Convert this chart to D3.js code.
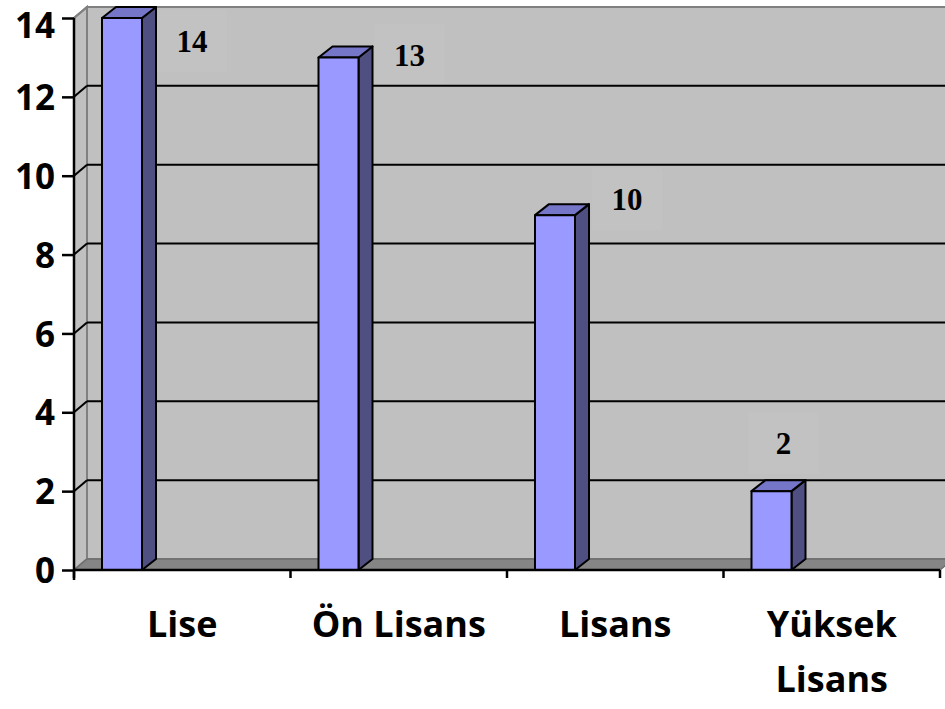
<!DOCTYPE html>
<html>
<head>
<meta charset="utf-8">
<script src="https://cdn.jsdelivr.net/npm/d3@7"></script>
<style>
  body { margin: 0; background: #fff; }
  svg { display: block; }
</style>
</head>
<body>
<div id="chart"></div>
<script>
//
// 3D column chart, education level counts.
//

var categories = ["Lise", "Ön Lisans", "Lisans", "Yüksek Lisans"];
var categoryLines = [["Lise"], ["Ön Lisans"], ["Lisans"], ["Yüksek", "Lisans"]];
var values = [14, 13, 9, 2];
var dataLabels = ["14", "13", "10", "2"];
var yTicks = [0, 2, 4, 6, 8, 10, 12, 14];

// hand placed label offsets from bar top centre (layout only)
var labelDx = [70, 71, 72, 12];
var labelDy = [34, 9, -5, -37];

const width = 945, height = 709;
const depthX = 13, depthY = -11;   // wall/floor depth
const barW = 40, barOff = 28;
const axisFont = '"Open Sans", Lato, sans-serif';

const svg = d3.select('#chart').append('svg')
  .attr('width', width)
  .attr('height', height);

const y = d3.scaleLinear().domain([0, 14]).range([570, 18]);
const x = d3.scaleBand().domain(categories).range([74, 940]).paddingInner(0).paddingOuter(0);

const x0 = 74, x1 = 940, yb = y(0), yt = y(14);

// back wall
svg.append('rect')
  .attr('x', x0 + depthX).attr('y', yt + depthY)
  .attr('width', x1 - x0 + 20).attr('height', yb - yt)
  .style('fill', '#c0c0c0').style('stroke', '#808080').style('stroke-width', 2);

// side wall
svg.append('polygon')
  .attr('points', [[x0, yt], [x0 + depthX, yt + depthY], [x0 + depthX, yb + depthY], [x0, yb]].join(' '))
  .style('fill', '#c0c0c0').style('stroke', '#808080').style('stroke-width', 2);

// floor
svg.append('polygon')
  .attr('points', [[x0, yb], [x0 + depthX, yb + depthY], [x1 + depthX, yb + depthY], [x1, yb]].join(' '))
  .style('fill', '#858585').style('stroke', '#6e6e6e').style('stroke-width', 1.5);

// data label boxes (faint), under gridlines and bars
values.forEach((v, i) => {
  var cx = x(categories[i]) + barOff + barW / 2 + labelDx[i];
  var by = y(v) + labelDy[i];
  svg.append('rect')
    .attr('x', cx - 35).attr('y', by - 42)
    .attr('width', 70).attr('height', 62)
    .style('fill', '#c2c2c2');
});

// gridlines on back wall + diagonals on side wall
yTicks.filter(t => t > 0 && t < 14).forEach(t => {
  svg.append('line')
    .attr('x1', x0 + depthX).attr('x2', width)
    .attr('y1', y(t) + depthY).attr('y2', y(t) + depthY)
    .style('stroke', '#000').style('stroke-width', 2);
});
yTicks.filter(t => t > 0).forEach(t => {
  svg.append('line')
    .attr('x1', x0).attr('x2', x0 + depthX)
    .attr('y1', y(t)).attr('y2', y(t) + depthY)
    .style('stroke', t == 14 ? '#808080' : '#000').style('stroke-width', 2);
});

// bars
values.forEach((v, i) => {
  var bx = x(categories[i]) + barOff;
  var by = y(v);
  var g = svg.append('g').style('stroke', '#000').style('stroke-width', 2).style('stroke-linejoin', 'round');
  g.append('polygon')
    .attr('points', [[bx + barW, by], [bx + barW + depthX + 1, by + depthY], [bx + barW + depthX + 1, yb + depthY], [bx + barW, yb]].join(' '))
    .style('fill', '#4f4f82');
  g.append('polygon')
    .attr('points', [[bx, by], [bx + depthX + 1, by + depthY], [bx + barW + depthX + 1, by + depthY], [bx + barW, by]].join(' '))
    .style('fill', '#7676c8');
  g.append('rect')
    .attr('x', bx).attr('y', by)
    .attr('width', barW).attr('height', yb - by)
    .style('fill', '#9999ff');

  svg.append('text')
    .attr('x', bx + barW / 2 + labelDx[i])
    .attr('y', by + labelDy[i])
    .attr('text-anchor', 'middle')
    .style('font-family', '"Liberation Serif", "Times New Roman", serif')
    .style('font-weight', 'bold')
    .style('font-size', '31px')
    .text(dataLabels[i]);
});

// Y axis
const yAxis = svg.append('g')
  .attr('transform', `translate(${x0},0)`)
  .call(d3.axisLeft(y).tickValues(yTicks).tickSize(12).tickPadding(7).tickSizeOuter(0));
yAxis.select('.domain').attr('d', `M0,${yt}V${yb + 10}`);
yAxis.selectAll('path, line').style('stroke', '#000').style('stroke-width', 2.5);
yAxis.selectAll('text')
  .attr('dy', d => d == 14 ? '0.57em' : '0.36em')
  .style('font-family', axisFont)
  .style('font-weight', 'bold')
  .style('font-size', '35px')
  .style('fill', '#000');

// X axis
const xAxis = svg.append('g')
  .attr('transform', `translate(0,${yb})`);
xAxis.append('line')
  .attr('x1', x0).attr('x2', x1)
  .style('stroke', '#000').style('stroke-width', 2.5);
categories.concat([null]).forEach((c, i) => {
  var tx = c ? x(c) : x1;
  xAxis.append('line')
    .attr('x1', tx).attr('x2', tx).attr('y1', 0).attr('y2', 8)
    .style('stroke', '#000').style('stroke-width', 2.5);
});
categories.forEach((c, i) => {
  var t = xAxis.append('text')
    .attr('x', x(c) + x.bandwidth() / 2)
    .attr('y', 67)
    .attr('text-anchor', 'middle')
    .style('font-family', axisFont)
    .style('font-weight', 'bold')
    .style('font-size', '36px');
  categoryLines[i].forEach((line, j) => {
    t.append('tspan')
      .attr('x', x(c) + x.bandwidth() / 2)
      .attr('dy', j == 0 ? 0 : 55)
      .text(line);
  });
});
</script>
</body>
</html>
